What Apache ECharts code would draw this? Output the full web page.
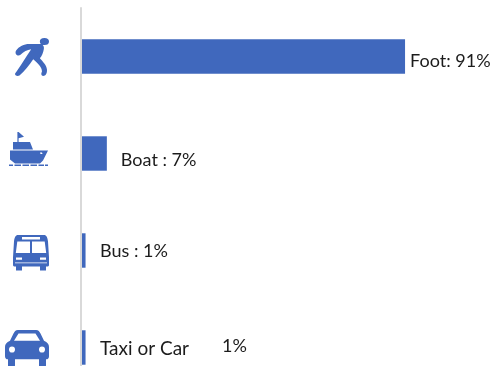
<!DOCTYPE html>
<html>
<head>
<meta charset="utf-8">
<style>html,body{margin:0;padding:0;background:#fff}#chart{width:497px;height:366px}</style>
<script src="https://cdn.jsdelivr.net/npm/echarts@6/dist/echarts.min.js"></script>
</head>
<body>
<div id="chart"></div>
<script>
// Share of trips by mode of travel
const categories = ['Foot', 'Boat', 'Bus', 'Taxi or Car'];
const shares = [91, 7, 1, 1];
const labelPrefixes = ['Foot: ', 'Boat : ', 'Bus : ', 'Taxi or Car'];

const BLUE = '#4068bd';

// Pictograms, one per mode. Inner cut-outs wind the opposite way to the outline.
const icons = [
  { dx: -67, dy: -18.5, w: 34, h: 38,
    d: 'M39.5 42A4.5 3.5 0 1 1 48.5 42A4.5 3.5 0 1 1 39.5 42Z' +
       'M16 51C19 47 24 44.5 29 44.5L39 44.5C42.5 44.5 44 46.5 43.4 49.5C42.8 53 41.5 56 39.5 58.5' +
       'C42.5 62 46 65 46.5 69.5C46.8 73.5 45 76 42.5 75.8C40.5 75.5 40.6 73.5 41.6 71.5' +
       'C41.6 67 37.5 63.5 33 59.5C29 65.5 24.5 71 19.5 75.5C17.5 76.5 14.5 75.5 15.2 73.5' +
       'C20 67 26 57 31 49.5C27 50 23.5 52 20.5 55C18 57 14.5 54.5 16 51Z' },
  { dx: -73, dy: -21.5, w: 39, h: 34,
    d: 'M17.4 132L18.6 132L24 136.8L18.6 138.2L18.6 142L30 142L33 149.5L13 149.5L13 142L17.4 142Z' +
       'M10 150.5L48 150.5L43 160.5L40 163.5L15 163.5L10 159.5Z' +
       'M40 152.5L40.5 154L42.5 154L42 152.5Z' +
       'M9 164.6L13 164.6L13 166L9 166Z' +
       'M14.5 164.6L21 164.6L21 166L14.5 166Z' +
       'M22.5 164.6L29 164.6L29 166L22.5 166Z' +
       'M30.5 164.6L37 164.6L37 166L30.5 166Z' +
       'M38.5 164.6L44 164.6L44 166L38.5 166Z' +
       'M45 164.6L48 164.6L48 166L45 166Z' },
  { dx: -69, dy: -15.5, w: 36, h: 35.5,
    d: 'M18 234.5L44 234.5C46.5 234.5 47.5 237 48 241L49 257L49 264.5C49 265.5 48 266 47 266' +
       'L46 266L46 270L40 270L40 266L22 266L22 270L16 270L16 266L15 266C14 266 13 265.5 13 264.5' +
       'L13 257L14 241C14.5 237 15.5 234.5 18 234.5Z' +
       'M22 236.5L22 239L40 239L40 236.5Z' +
       'M17.3 241L15.8 252.5L30 252.5L30 241Z' +
       'M32 241L32 252.5L46.2 252.5L44.7 241Z' +
       'M16 257L16 259.2L22 259.2L22 257Z' +
       'M40 257L40 259.2L46 259.2L46 257Z' +
       'M15 262L15 262.7L47 262.7L47 262Z' },
  { dx: -77, dy: -17.5, w: 44, h: 37,
    d: 'M18 330.5L36 330.5C38.5 330.5 39.5 332 40.5 334L44 341C47.5 342.5 49 344.5 49 347' +
       'L49 356C49 358 48 359 46 359L46 365C46 367 39 367 39 365L39 359L15 359L15 365C15 367 8 367 8 365' +
       'L8 359C6 359 5 358 5 356L5 347C5 344.5 6.5 342.5 10 341L13.5 334C14.5 332 15.5 330.5 18 330.5Z' +
       'M18.5 334L14 341L40 341L35.5 334Z' +
       'M9 349.5A3 3 0 0 0 15 349.5A3 3 0 0 0 9 349.5Z' +
       'M39 349.5A3 3 0 0 0 45 349.5A3 3 0 0 0 39 349.5Z' }
];

// Space between a bar's end and its label, and the label's drop from the row centre
const labelLayout = [
  { distance: 5, drop: 5 },
  { distance: 14, drop: 7 },
  { distance: 14.5, drop: 1 },
  { distance: 14.5, drop: 1 }
];

const chart = echarts.init(document.getElementById('chart'), null, { renderer: 'canvas' });

chart.setOption({
  animation: false,
  backgroundColor: '#fff',
  textStyle: { fontFamily: 'Lato' },
  grid: { left: 82, width: 355, top: 8, height: 388, outerBoundsMode: 'none' },
  xAxis: { type: 'value', min: 0, max: 100, show: false },
  yAxis: {
    type: 'category',
    inverse: true,
    data: categories,
    offset: 1,
    axisLine: { show: true, onZero: false, lineStyle: { color: '#d9d9d9', width: 2 } },
    axisTick: { show: false },
    axisLabel: { show: false },
    splitLine: { show: false }
  },
  series: [
    {
      type: 'bar',
      barWidth: '35.5%',
      itemStyle: { color: BLUE },
      data: shares.map((value, i) => ({
        value,
        label: {
          show: true,
          position: 'right',
          distance: labelLayout[i].distance,
          offset: [0, labelLayout[i].drop],
          color: '#1c1c1c',
          fontFamily: 'Lato',
          fontSize: 18,
          formatter: i === 3 ? '{name|' + labelPrefixes[i] + '}{val|' + value + '%}' : labelPrefixes[i] + value + '%',
          rich: {
            name: { width: 122, color: '#1c1c1c', fontFamily: 'Lato', fontSize: 19 },
            val: { color: '#1c1c1c', fontFamily: 'Lato', fontSize: 18, padding: [0, 0, 5, 0] }
          }
        }
      }))
    },
    {
      type: 'custom',
      clip: false,
      silent: true,
      encode: { x: 0, y: 1 },
      data: categories.map((name) => [0, name]),
      renderItem(params, api) {
        const origin = api.coord([0, params.dataIndex]);
        const icon = icons[params.dataIndex];
        return {
          type: 'path',
          shape: {
            pathData: icon.d,
            layout: 'cover',
            x: origin[0] + icon.dx,
            y: origin[1] + icon.dy,
            width: icon.w,
            height: icon.h
          },
          style: { fill: BLUE }
        };
      }
    }
  ]
});
</script>
</body>
</html>
